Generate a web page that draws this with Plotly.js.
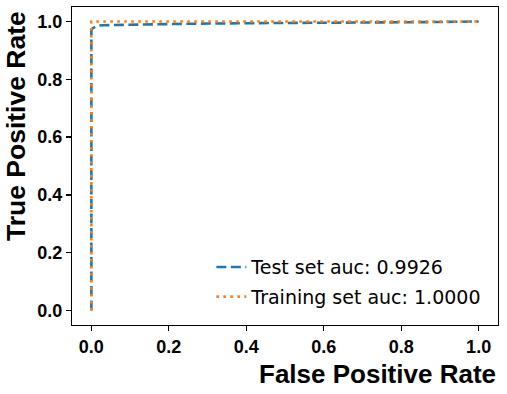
<!DOCTYPE html>
<html><head><meta charset="utf-8">
<script src="https://cdn.plot.ly/plotly-3.0.1.min.js"></script>
<style>html,body{margin:0;padding:0;background:#fff}</style>
</head><body><div id="chart" style="width:507px;height:394px"></div>
<script>
const testFpr = [0, 0, 0, 0.003, 0.008, 0.015, 0.03, 0.06, 0.12, 0.25, 0.4, 0.6, 0.8, 0.9, 1.0];
const testTpr = [0, 0.5, 0.968, 0.976, 0.981, 0.985, 0.987, 0.988, 0.989, 0.992, 0.994, 0.995, 0.997, 0.998, 1.0];
const trainFpr = [0, 0, 0, 1.0];
const trainTpr = [0, 0.5, 1.0, 1.0];
const testLabel = 'Test set auc: 0.9926';
const trainLabel = 'Training set auc: 1.0000';
const xTicks = [0, 0.2, 0.4, 0.6, 0.8, 1.0];
const xTickText = ['0.0', '0.2', '0.4', '0.6', '0.8', '1.0'];
const yTicks = [0, 0.2, 0.4, 0.6, 0.8, 1.0];
const yTickText = ['0.0', '0.2', '0.4', '0.6', '0.8', '1.0'];

const FONT = 'Liberation Sans, Arial, sans-serif';
const LFONT = 'DejaVu Sans, sans-serif';
const data = [
  {x: testFpr, y: testTpr, mode: 'lines', name: testLabel, legendgroup: 'a',
   line: {color: '#1f77b4', width: 2.6, dash: '10px,4.5px'}},
  {x: trainFpr, y: trainTpr, mode: 'lines', name: trainLabel, legendgroup: 'b',
   line: {color: '#ff7f0e', width: 2.6, dash: '2.6px,4.4px'}}
];
const axisCommon = {
  showgrid: false, zeroline: false, showline: true, mirror: true,
  linecolor: '#000', linewidth: 1.2, ticks: 'outside', ticklen: 5, tickwidth: 1.2,
  tickcolor: '#000', tickfont: {family: FONT, size: 18, color: '#000', weight: 'bold'}
};
const layout = {
  width: 507, height: 394,
  margin: {l: 72, r: 9, t: 7, b: 69},
  paper_bgcolor: '#fff', plot_bgcolor: '#fff',
  showlegend: true,
  legend: {x: 0.975, xanchor: 'right', y: 0.028, yanchor: 'bottom',
    bgcolor: 'rgba(0,0,0,0)', borderwidth: 0, tracegroupgap: 2,
    font: {family: LFONT, size: 19, color: '#000'}},
  xaxis: Object.assign({}, axisCommon, {range: [-0.05, 1.05], tickvals: xTicks, ticktext: xTickText}),
  yaxis: Object.assign({}, axisCommon, {range: [-0.05, 1.05], tickvals: yTicks, ticktext: yTickText}),
  annotations: [
    {text: 'False Positive Rate', xref: 'paper', yref: 'paper', x: 1, y: 0,
     xanchor: 'right', yanchor: 'top', yshift: -32, showarrow: false,
     font: {family: FONT, size: 26, color: '#000', weight: 'bold'}},
    {text: 'True Positive Rate', xref: 'paper', yref: 'paper', x: 0, y: 1,
     xanchor: 'right', yanchor: 'top', xshift: -39, yshift: -2, textangle: -90, showarrow: false,
     font: {family: FONT, size: 26.5, color: '#000', weight: 'bold'}}
  ]
};
Plotly.newPlot('chart', data, layout, {staticPlot: true, displayModeBar: false});
</script></body></html>
